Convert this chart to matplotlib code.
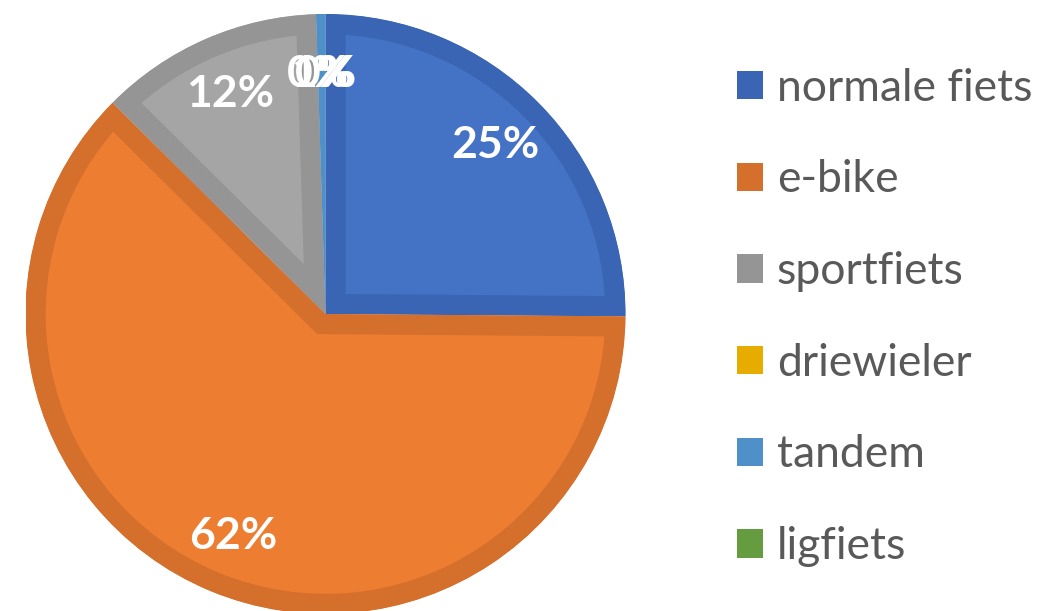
import numpy as np
import matplotlib
matplotlib.use("Agg")
import matplotlib.pyplot as plt
from matplotlib.patches import Rectangle

plt.rcParams['font.family'] = ['Lato', 'DejaVu Sans']

labels = ['normale fiets', 'e-bike', 'sportfiets', 'driewieler', 'tandem', 'ligfiets']
counts = [50, 124, 24, 0, 1, 0]
colors = ['#4472C4', '#ED7D31', '#A5A5A5', '#FFC000', '#5B9BD5', '#70AD47']
edges = ['#3A65B4', '#D46F2C', '#959595', '#E6AC00', '#5090C8', '#659C40']

W, H = 1062, 611
fig = plt.figure(figsize=(W / 100, H / 100), dpi=100)

# pie axes: centre (325, 314) px, radius 300 px
cx, cy, r = 325.5, 314, 300
ax = fig.add_axes([(cx - r) / W, (H - cy - r) / H, 2 * r / W, 2 * r / H])

wedges, texts, autotexts = ax.pie(
    counts, colors=colors, startangle=90, counterclock=False,
    autopct='%.0f%%', pctdistance=0.8, radius=1,
    textprops=dict(color='white', fontsize=32, fontweight='bold'))

# thick darker border kept inside each slice (half of a 40 px line, clipped)
for w, ec, n in zip(wedges, edges, counts):
    w.set_edgecolor(ec)
    w.set_linewidth(29 if n > 0 else 0)
    w.set_clip_on(True)
    w.set_clip_path(w)

ax.set_xlim(-1, 1)
ax.set_ylim(-1, 1)
ax.set_aspect('equal')
ax.axis('off')

handles = [Rectangle((0, 0), 1, 1, facecolor=ec, edgecolor='none') for ec in edges]
fig.legend(handles, labels, loc='upper left', bbox_to_anchor=(719 / W, 1 - 50 / H),
           frameon=False, fontsize=32, labelcolor='#595959',
           handlelength=0.6, handleheight=0.6, handletextpad=0.3,
           labelspacing=1.14, borderaxespad=0)

fig.savefig('out.png', dpi=100)
